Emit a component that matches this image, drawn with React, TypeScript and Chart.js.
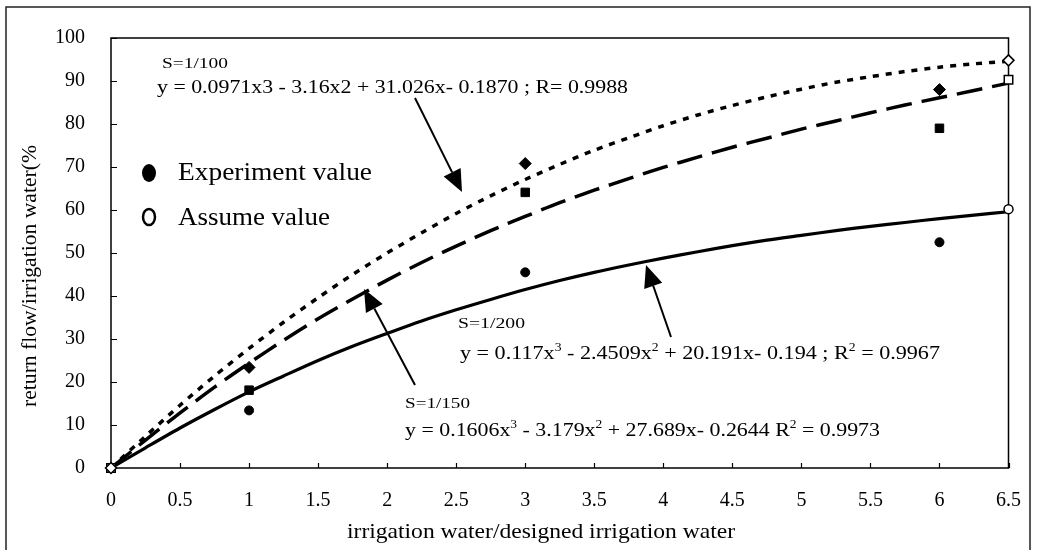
import React, { useEffect, useRef } from "react";
import { Chart, registerables } from "chart.js";

Chart.register(...registerables);

// ---- data ----
const curveX = [0, 0.25, 0.5, 0.75, 1, 1.25, 1.5, 1.75, 2, 2.25, 2.5, 2.75, 3, 3.25, 3.5, 3.75, 4, 4.25, 4.5, 4.75, 5, 5.25, 5.5, 5.75, 6, 6.25, 6.5];
const curveS100 = [0, 7.4, 14.6, 21.4, 27.8, 33.9, 39.6, 45.0, 50.0, 54.7, 59.2, 63.3, 67.1, 70.6, 73.9, 76.8, 79.6, 82.1, 84.3, 86.3, 88.1, 89.7, 91.0, 92.2, 93.2, 94.0, 94.6];
const curveS150 = [0, 6.5, 12.8, 18.8, 24.4, 29.7, 34.7, 39.3, 43.7, 47.8, 51.6, 55.2, 58.5, 61.7, 64.6, 67.3, 69.9, 72.3, 74.6, 76.7, 78.8, 80.7, 82.6, 84.4, 86.1, 87.8, 89.5];
const curveS200 = [0, 4.7, 9.3, 13.6, 17.7, 21.4, 25.0, 28.3, 31.3, 34.2, 36.8, 39.2, 41.5, 43.6, 45.5, 47.2, 48.8, 50.3, 51.7, 53.0, 54.1, 55.2, 56.2, 57.1, 58.0, 58.8, 59.6];

const expX = [1, 3, 6];
const expS100 = [23.4, 70.8, 88.0];
const expS150 = [18.1, 64.1, 79.0];
const expS200 = [13.4, 45.5, 52.5];

const assumeX = [0, 6.5];
const assumeS100 = [0, 94.8];
const assumeS150 = [0, 90.3];
const assumeS200 = [0, 60.2];

const xTickValues = [0, 0.5, 1, 1.5, 2, 2.5, 3, 3.5, 4, 4.5, 5, 5.5, 6, 6.5];
const yTickValues = [0, 10, 20, 30, 40, 50, 60, 70, 80, 90, 100];

const xTitle = "irrigation water/designed irrigation water";
const yTitle = "return flow/irrigation water(%";
const legendLabels = ["Experiment value", "Assume value"];

const SERIF = "'Liberation Serif', 'Times New Roman', serif";

type Seg = { t: string; sup?: boolean };

function drawRich(ctx: CanvasRenderingContext2D, segs: Seg[], x: number, baseline: number, size: number, targetW: number) {
  ctx.save();
  const f = (s: number) => `${s}px ${SERIF}`;
  let w = 0;
  for (const s of segs) {
    ctx.font = f(s.sup ? size * 0.62 : size);
    w += ctx.measureText(s.t).width;
  }
  const k = targetW / w;
  ctx.translate(x, baseline);
  ctx.scale(k, 1);
  ctx.textBaseline = "alphabetic";
  ctx.textAlign = "left";
  ctx.fillStyle = "#000";
  let cx = 0;
  for (const s of segs) {
    ctx.font = f(s.sup ? size * 0.62 : size);
    ctx.fillText(s.t, cx, s.sup ? -size * 0.42 : 0);
    cx += ctx.measureText(s.t).width;
  }
  ctx.restore();
}

function arrow(ctx: CanvasRenderingContext2D, x0: number, y0: number, x1: number, y1: number) {
  const dx = x1 - x0, dy = y1 - y0;
  const L = Math.hypot(dx, dy);
  const ux = dx / L, uy = dy / L;
  const hl = 22, hw = 9.5;
  const bx = x1 - ux * hl, by = y1 - uy * hl;
  ctx.save();
  ctx.strokeStyle = "#000";
  ctx.fillStyle = "#000";
  ctx.lineWidth = 2;
  ctx.beginPath();
  ctx.moveTo(x0, y0);
  ctx.lineTo(bx, by);
  ctx.stroke();
  ctx.beginPath();
  ctx.moveTo(x1, y1);
  ctx.lineTo(bx - uy * hw, by + ux * hw);
  ctx.lineTo(bx + uy * hw, by - ux * hw);
  ctx.closePath();
  ctx.fill();
  ctx.restore();
}

const decor = {
  id: "decor",
  beforeDatasetsDraw(chart: any) {
    const { ctx, chartArea: a, scales } = chart;
    const xs = scales.x, ys = scales.y;
    ctx.save();
    ctx.strokeStyle = "#000";
    ctx.lineWidth = 1.5;
    ctx.strokeRect(a.left, a.top, a.right - a.left, a.bottom - a.top);
    ctx.lineWidth = 1.2;
    ctx.beginPath();
    for (const v of xTickValues) {
      const px = Math.round(xs.getPixelForValue(v)) + 0.5;
      ctx.moveTo(px, a.bottom);
      ctx.lineTo(px, a.bottom - 5);
    }
    for (const v of yTickValues) {
      const py = Math.round(ys.getPixelForValue(v)) + 0.5;
      ctx.moveTo(a.left, py);
      ctx.lineTo(a.left + 6, py);
    }
    ctx.stroke();
    ctx.restore();
  },
  afterDraw(chart: any) {
    const ctx: CanvasRenderingContext2D = chart.ctx;
    ctx.save();
    // outer frame
    ctx.strokeStyle = "#222";
    ctx.lineWidth = 1.5;
    ctx.beginPath();
    ctx.moveTo(6, 552);
    ctx.lineTo(6, 7);
    ctx.lineTo(1030, 7);
    ctx.lineTo(1030, 552);
    ctx.stroke();

    // equations
    drawRich(ctx, [{ t: "S=1/100" }], 162, 68, 15, 66);
    drawRich(ctx, [{ t: "y = 0.0971x3 - 3.16x2 + 31.026x- 0.1870 ; R= 0.9988" }], 157, 93, 18, 471);
    drawRich(ctx, [{ t: "S=1/200" }], 458, 328, 15, 67);
    drawRich(ctx, [
      { t: "y = 0.117x" }, { t: "3", sup: true }, { t: " - 2.4509x" }, { t: "2", sup: true },
      { t: " + 20.191x- 0.194 ; R" }, { t: "2", sup: true }, { t: " = 0.9967" },
    ], 460, 359, 19, 480);
    drawRich(ctx, [{ t: "S=1/150" }], 405, 408, 15, 65);
    drawRich(ctx, [
      { t: "y = 0.1606x" }, { t: "3", sup: true }, { t: " - 3.179x" }, { t: "2", sup: true },
      { t: " + 27.689x- 0.2644 R" }, { t: "2", sup: true }, { t: " = 0.9973" },
    ], 405, 436, 19, 475);

    // arrows
    arrow(ctx, 415, 98, 462, 192);
    arrow(ctx, 671, 337, 646, 265);
    arrow(ctx, 415, 385, 364, 289);

    // legend
    ctx.fillStyle = "#000";
    ctx.beginPath();
    ctx.ellipse(149, 173, 7, 9, 0, 0, Math.PI * 2);
    ctx.fill();
    ctx.strokeStyle = "#000";
    ctx.lineWidth = 2.5;
    ctx.beginPath();
    ctx.ellipse(149, 217, 6, 8, 0, 0, Math.PI * 2);
    ctx.stroke();
    drawRich(ctx, [{ t: legendLabels[0] }], 178, 180, 25, 194);
    drawRich(ctx, [{ t: legendLabels[1] }], 178, 225, 25, 152);

    // axis titles
    drawRich(ctx, [{ t: xTitle }], 347, 538, 22, 388);
    ctx.save();
    ctx.translate(36, 407);
    ctx.rotate(-Math.PI / 2);
    drawRich(ctx, [{ t: yTitle }], 0, 0, 20, 262);
    ctx.restore();

    ctx.restore();
  },
};

const pts = (xs: number[], ys: number[]) => xs.map((x, i) => ({ x, y: ys[i] }));

export default function App() {
  const ref = useRef<HTMLCanvasElement | null>(null);
  useEffect(() => {
    if (!ref.current) return;
    const marker = (data: any, style: string, r: number, filled: boolean) => ({
      data,
      showLine: false,
      pointStyle: style,
      pointRadius: r,
      pointBackgroundColor: filled ? "#000" : "#fff",
      pointBorderColor: "#000",
      pointBorderWidth: filled ? 1 : 1.5,
      clip: false,
    });
    const curve = (data: any, width: number, dash: number[]) => ({
      data,
      showLine: true,
      borderColor: "#000",
      borderWidth: width,
      borderDash: dash,
      pointRadius: 0,
      tension: 0.3,
      fill: false,
    });
    const chart = new Chart(ref.current, {
      type: "scatter",
      data: {
        datasets: [
          marker(pts(assumeX, assumeS100), "rectRot", 5.5, false),
          marker(pts(assumeX, assumeS150), "rect", 6, false),
          marker(pts(assumeX, assumeS200), "circle", 4.5, false),
          marker(pts(expX, expS100), "rectRot", 6, true),
          marker(pts(expX, expS150), "rect", 6, true),
          marker(pts(expX, expS200), "circle", 4.5, true),
          curve(pts(curveX, curveS100), 3.5, [6, 7]),
          curve(pts(curveX, curveS150), 3.5, [26, 10]),
          curve(pts(curveX, curveS200), 3.2, []),
        ] as any,
      },
      options: {
        responsive: false,
        animation: false,
        devicePixelRatio: 1,
        layout: { padding: { left: 0, top: 20, right: 29, bottom: 0 } },
        plugins: { legend: { display: false }, tooltip: { enabled: false } },
        scales: {
          x: {
            type: "linear",
            min: 0,
            max: 6.5,
            afterBuildTicks: (s: any) => {
              s.ticks = xTickValues.map((v) => ({ value: v }));
            },
            afterFit: (s: any) => {
              s.height = 82;
            },
            grid: { display: false, drawTicks: false },
            border: { display: false },
            ticks: {
              autoSkip: false,
              maxRotation: 0,
              padding: 21,
              color: "#000",
              font: { family: SERIF, size: 20 },
              callback: (v: any) => String(v),
            },
          },
          y: {
            type: "linear",
            min: 0,
            max: 100,
            afterBuildTicks: (s: any) => {
              s.ticks = yTickValues.map((v) => ({ value: v }));
            },
            afterFit: (s: any) => {
              s.width = 111;
            },
            grid: { display: false, drawTicks: false },
            border: { display: false },
            ticks: {
              autoSkip: false,
              padding: 26,
              color: "#000",
              font: { family: SERIF, size: 20 },
              callback: (v: any) => String(v),
            },
          },
        },
      } as any,
      plugins: [decor],
    });
    return () => chart.destroy();
  }, []);
  return (
    <canvas
      ref={ref}
      width={1042}
      height={550}
      style={{ position: "fixed", left: 0, top: 0, display: "block", background: "#fff" }}
    />
  );
}
